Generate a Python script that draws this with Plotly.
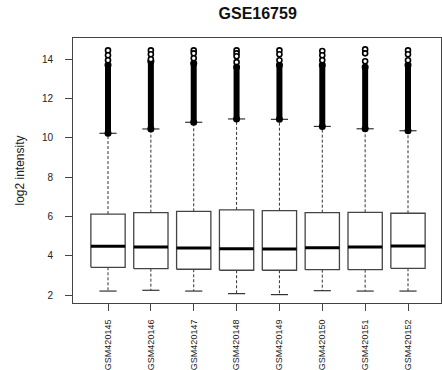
import plotly.graph_objects as go

samples = ["GSM420145", "GSM420146", "GSM420147", "GSM420148",
           "GSM420149", "GSM420150", "GSM420151", "GSM420152"]
q1 = [3.41, 3.34, 3.31, 3.26, 3.26, 3.29, 3.29, 3.36]
median = [4.48, 4.44, 4.39, 4.36, 4.34, 4.41, 4.44, 4.49]
q3 = [6.12, 6.19, 6.26, 6.33, 6.29, 6.19, 6.21, 6.16]
lower_whisker = [2.20, 2.24, 2.20, 2.07, 2.02, 2.22, 2.20, 2.20]
upper_whisker = [10.23, 10.45, 10.79, 10.96, 10.94, 10.58, 10.46, 10.36]
outlier_dense_top = [13.7, 13.9, 13.8, 13.6, 13.7, 13.7, 13.6, 13.7]
outlier_sparse = [
    [14.45, 14.2, 13.95],
    [14.45, 14.25, 14.0],
    [14.45, 14.3, 14.05],
    [14.45, 14.3, 14.15, 13.85],
    [14.45, 14.25, 13.95],
    [14.42, 14.2, 13.95],
    [14.5, 14.3, 13.9],
    [14.45, 14.25, 13.95],
]
y_ticks = [2, 4, 6, 8, 10, 12, 14]

pos = list(range(1, len(samples) + 1))
half_box = 0.4
half_cap = 0.2

box_x, box_y = [], []
med_x, med_y = [], []
wh_x, wh_y = [], []
cap_x, cap_y = [], []
dense_x, dense_y = [], []
sp_x, sp_y = [], []
for i, p in enumerate(pos):
    box_x += [p - half_box, p + half_box, p + half_box, p - half_box, p - half_box, None]
    box_y += [q1[i], q1[i], q3[i], q3[i], q1[i], None]
    med_x += [p - half_box, p + half_box, None]
    med_y += [median[i], median[i], None]
    wh_x += [p, p, None, p, p, None]
    wh_y += [q3[i], upper_whisker[i], None, q1[i], lower_whisker[i], None]
    cap_x += [p - half_cap, p + half_cap, None, p - half_cap, p + half_cap, None]
    cap_y += [upper_whisker[i], upper_whisker[i], None, lower_whisker[i], lower_whisker[i], None]
    dense_x += [p, p, None]
    dense_y += [upper_whisker[i], outlier_dense_top[i], None]
    for v in outlier_sparse[i]:
        sp_x.append(p)
        sp_y.append(v)

fig = go.Figure()
fig.add_trace(go.Scatter(x=wh_x, y=wh_y, mode="lines",
                         line=dict(color="#333333", width=1, dash="3px,2px"),
                         hoverinfo="skip", showlegend=False))
fig.add_trace(go.Scatter(x=cap_x, y=cap_y, mode="lines",
                         line=dict(color="#333333", width=1.2),
                         hoverinfo="skip", showlegend=False))
fig.add_trace(go.Scatter(x=box_x, y=box_y, mode="lines",
                         line=dict(color="#444444", width=1.3),
                         hoverinfo="skip", showlegend=False))
fig.add_trace(go.Scatter(x=med_x, y=med_y, mode="lines",
                         line=dict(color="black", width=3),
                         hoverinfo="skip", showlegend=False))
fig.add_trace(go.Scatter(x=dense_x, y=dense_y, mode="lines+markers",
                         line=dict(color="black", width=6),
                         marker=dict(symbol="circle", size=7, color="black"),
                         hoverinfo="skip", showlegend=False))
fig.add_trace(go.Scatter(x=sp_x, y=sp_y, mode="markers",
                         marker=dict(symbol="circle", size=5, color="white",
                                     line=dict(color="black", width=1.6)),
                         hoverinfo="skip", showlegend=False))

fig.update_layout(
    width=442, height=370,
    margin=dict(l=73, r=1, t=38, b=67),
    paper_bgcolor="white", plot_bgcolor="white",
    font=dict(family="Liberation Sans, Arial, sans-serif", color="#222222"),
    title=dict(text="<b>GSE16759</b>", x=0.583, xanchor="center",
               y=1 - 13 / 370, yanchor="middle",
               font=dict(size=16, color="#111111")),
)
fig.update_xaxes(
    range=[0.183, 8.77], tickmode="array", tickvals=pos, ticktext=samples,
    tickangle=-90, tickfont=dict(size=9), automargin=False,
    ticks="outside", ticklen=7, tickcolor="#444444",
    showline=True, linecolor="#444444", linewidth=1, mirror=True,
    showgrid=False, zeroline=False, ticklabelstandoff=5,
)
fig.update_yaxes(
    range=[1.593, 15.08], tickmode="array", tickvals=y_ticks,
    tickfont=dict(size=10), automargin=False,
    ticks="outside", ticklen=7, tickcolor="#444444",
    showline=True, linecolor="#444444", linewidth=1, mirror=True,
    showgrid=False, zeroline=False, ticklabelstandoff=10,
    title=dict(text="log2 intensity", font=dict(size=12), standoff=14),
)

fig.write_html("out.html")
